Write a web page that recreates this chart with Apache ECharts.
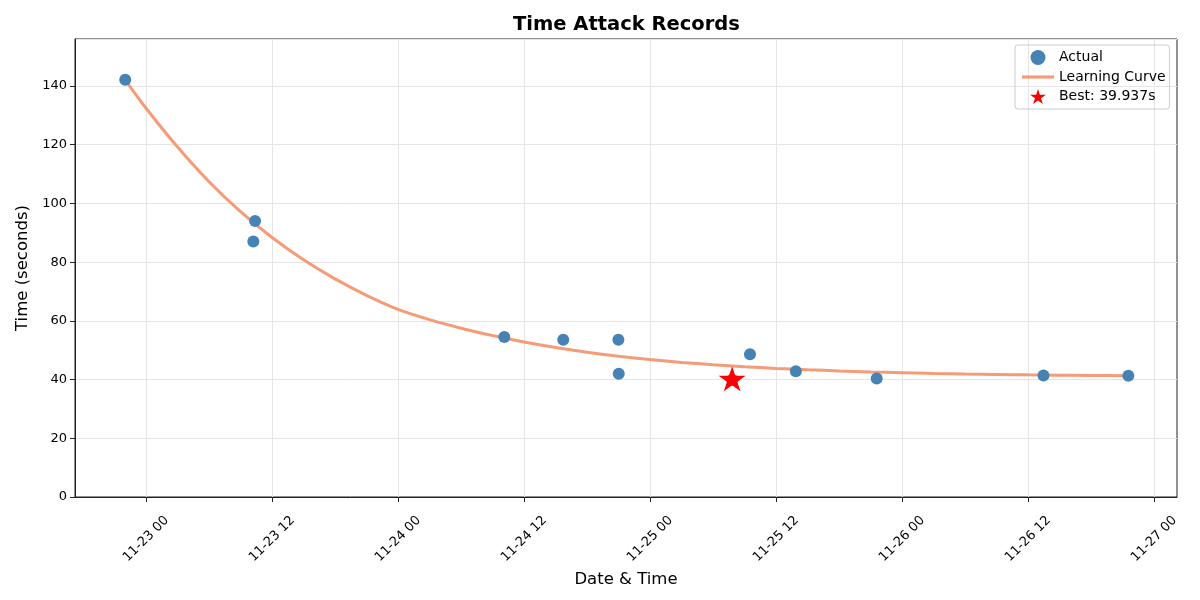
<!DOCTYPE html>
<html>
<head>
<meta charset="utf-8">
<script src="https://cdn.jsdelivr.net/npm/echarts@6/dist/echarts.min.js"></script>
<style>
  html, body { margin: 0; padding: 0; background: #fff; }
  #main { width: 1200px; height: 600px; }
</style>
</head>
<body>
<div id="main"></div>
<script>
// 实测数据点
var actualTimes = ['2024-11-22 22:01', '2024-11-23 10:23', '2024-11-23 10:13', '2024-11-24 10:07',
    '2024-11-24 15:44', '2024-11-24 20:59', '2024-11-24 21:01', '2024-11-25 07:49', '2024-11-25 09:31',
    '2024-11-25 13:53', '2024-11-25 21:35', '2024-11-26 13:28', '2024-11-26 21:33'];
var actualValues = [142.1, 94.0, 87.0, 54.5, 53.6, 53.6, 42.0, 39.937, 48.6, 42.8, 40.4, 41.4, 41.3];

// 学习曲线 (从图上读出的点, 每3小时)
var curveTimes = ['2024-11-22 22:01',
    '2024-11-23 00:00', '2024-11-23 03:00', '2024-11-23 06:00', '2024-11-23 09:00',
    '2024-11-23 12:00', '2024-11-23 15:00', '2024-11-23 18:00', '2024-11-23 21:00',
    '2024-11-24 00:00', '2024-11-24 03:00', '2024-11-24 06:00', '2024-11-24 09:00',
    '2024-11-24 12:00', '2024-11-24 15:00', '2024-11-24 18:00', '2024-11-24 21:00',
    '2024-11-25 00:00', '2024-11-25 03:00', '2024-11-25 06:00', '2024-11-25 09:00',
    '2024-11-25 12:00', '2024-11-25 15:00', '2024-11-25 18:00', '2024-11-25 21:00',
    '2024-11-26 00:00', '2024-11-26 03:00', '2024-11-26 06:00', '2024-11-26 09:00',
    '2024-11-26 12:00', '2024-11-26 15:00', '2024-11-26 18:00', '2024-11-26 21:33'];
var curveValues = [142.1,
    132.4, 119.2, 107.4, 97.2,
    88.4, 80.8, 74.3, 68.7,
    63.9, 60.4, 57.5, 55.0,
    52.8, 50.9, 49.3, 47.95,
    46.8, 45.85, 45.05, 44.4,
    43.8, 43.35, 42.95, 42.6,
    42.35, 42.1, 41.9, 41.75,
    41.6, 41.5, 41.4, 41.3];

// 最佳成绩
var bestTime = '2024-11-25 07:49';
var bestValue = 39.937;

// 刻度
var xTicks = ['2024-11-23 00:00', '2024-11-23 12:00', '2024-11-24 00:00', '2024-11-24 12:00',
    '2024-11-25 00:00', '2024-11-25 12:00', '2024-11-26 00:00', '2024-11-26 12:00', '2024-11-27 00:00'];
var xMin = '2024-11-22 17:14';
var xMax = '2024-11-27 02:11';

function ts(s) {
    return echarts.time.parse(s).getTime();
}

var starPath = 'path://M50 0 L61.23 34.55 L97.55 34.55 L68.16 55.9 L79.39 90.45 L50 69.1 L20.61 90.45 L31.84 55.9 L2.45 34.55 L38.77 34.55 Z';
var linePath = 'path://M0 0 L100 0 L100 10 L0 10 Z';
var font = 'DejaVu Sans';
var tickVals = xTicks.map(ts);
var curveColor = '#f59b78';

var myChart = echarts.init(document.getElementById('main'));
var option = {
    backgroundColor: '#fff',
    animation: false,
    textStyle: { fontFamily: font },
    title: {
        text: 'Time Attack Records',
        left: 513,
        top: 15,
        padding: 0,
        textStyle: { fontFamily: font, fontSize: 19.5, fontWeight: 'bold', color: '#000' }
    },
    legend: {
        orient: 'vertical',
        left: 1015,
        top: 45,
        padding: [5, 4, 5, 7],
        itemWidth: 32,
        itemHeight: 15,
        itemGap: 5,
        borderColor: '#cccccc',
        borderWidth: 1,
        borderRadius: 3,
        textStyle: { fontFamily: font, fontSize: 14, color: '#000' },
        data: [
            { name: 'Actual', icon: 'circle' },
            { name: 'Learning Curve', icon: linePath },
            { name: 'Best: 39.937s', icon: starPath }
        ]
    },
    grid: {
        left: 75,
        top: 39,
        width: 1102,
        height: 458,
        show: true,
        borderColor: '#222',
        borderWidth: 1,
        backgroundColor: 'transparent'
    },
    xAxis: {
        type: 'value',
        min: ts(xMin),
        max: ts(xMax),
        name: 'Date & Time',
        nameLocation: 'middle',
        nameGap: 65,
        nameTextStyle: { fontFamily: font, fontSize: 16.5, color: '#000' },
        axisLine: { show: true, onZero: false, lineStyle: { color: '#222', width: 1 } },
        axisTick: { show: true, customValues: tickVals, length: 5, lineStyle: { color: '#222' } },
        axisLabel: {
            customValues: tickVals,
            rotate: 45,
            align: 'center',
            verticalAlign: 'middle',
            fontFamily: font,
            fontSize: 13,
            color: '#000',
            margin: 42,
            formatter: function (v) {
                return echarts.time.format(v, '{MM}-{dd} {HH}', false);
            }
        },
        splitLine: { show: true, customValues: tickVals, lineStyle: { color: '#e5e5e5', width: 1 } }
    },
    yAxis: {
        type: 'value',
        min: 0,
        max: 156,
        interval: 20,
        name: 'Time (seconds)',
        nameLocation: 'middle',
        nameGap: 33,
        nameTextStyle: { fontFamily: font, fontSize: 16.5, color: '#000' },
        axisLine: { show: true, lineStyle: { color: '#222', width: 1 } },
        axisTick: { show: true, length: 5, lineStyle: { color: '#222' } },
        axisLabel: { fontFamily: font, fontSize: 13, color: '#000', margin: 8, showMaxLabel: false },
        splitLine: { show: true, lineStyle: { color: '#e5e5e5', width: 1 } }
    },
    series: [
        {
            name: 'Learning Curve',
            type: 'line',
            smooth: 0.3,
            showSymbol: false,
            symbol: 'none',
            z: 2,
            lineStyle: { color: curveColor, width: 3 },
            itemStyle: { color: curveColor },
            data: curveTimes.map(function (t, i) { return [ts(t), curveValues[i]]; })
        },
        {
            name: 'Actual',
            type: 'scatter',
            symbol: 'circle',
            symbolSize: 12,
            z: 3,
            itemStyle: { color: '#4682b4', opacity: 1 },
            data: actualTimes.map(function (t, i) { return [ts(t), actualValues[i]]; })
        },
        {
            name: 'Best: 39.937s',
            type: 'scatter',
            symbol: starPath,
            symbolSize: [27, 25],
            symbolOffset: [0, -1],
            z: 4,
            itemStyle: { color: '#ff0000', opacity: 1 },
            data: [[ts(bestTime), bestValue]]
        }
    ]
};

myChart.setOption(option);
</script>
</body>
</html>
